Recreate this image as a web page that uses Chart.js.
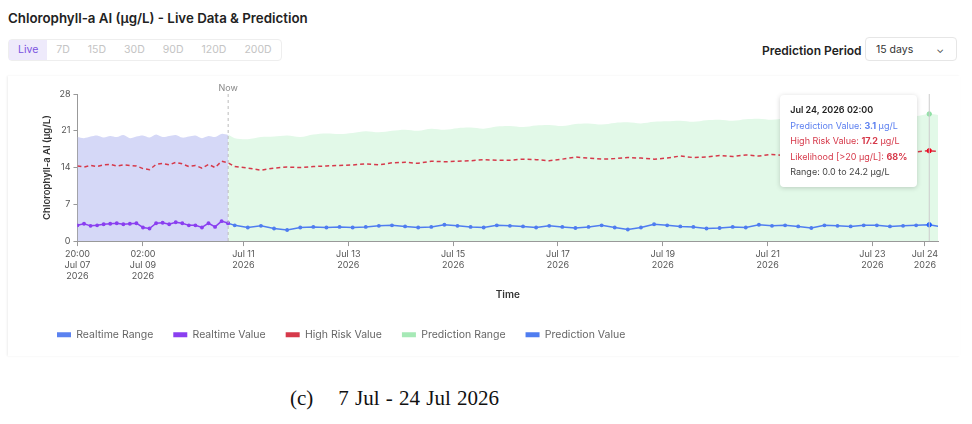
<!DOCTYPE html>
<html><head><meta charset="utf-8">
<script src="https://cdn.jsdelivr.net/npm/chart.js@4/dist/chart.umd.min.js"></script>
<style>
body{margin:0;width:972px;height:424px;background:#fff;font-family:Inter,"Noto Sans",sans-serif;position:relative;overflow:hidden}
h1{position:absolute;left:8px;top:10px;margin:0;font-size:13.3px;font-weight:600;color:#222}
.tabs{position:absolute;left:8px;top:39px;height:20px;border:1px solid #eee;border-radius:4px;display:flex;font-size:10.5px;color:#c4c4c4}
.tabs span{padding:0 9px;line-height:20px}
.tabs span.on{background:#eeeafb;color:#7b52e0}
.pp{position:absolute;left:762px;top:43px;font-size:12px;font-weight:600;color:#222}
.sel{position:absolute;left:865px;top:37px;width:92px;height:24px;border:1px solid #e6e6e6;border-radius:4px;font-size:10.5px;line-height:24px;color:#333;box-sizing:border-box;padding-left:10px}
.sel b{position:absolute;right:12px;top:-1px;font-weight:400;font-size:10px}
.card{position:absolute;left:8px;top:76px;width:952px;height:280px;box-shadow:-1px 0 2px #eee}
#tip{position:absolute;background:#fff;border-radius:4px;box-shadow:0 1px 5px rgba(0,0,0,.18);padding:7px 10px;font-size:9px;line-height:15.5px;white-space:nowrap;color:#444;display:none}
.cap{position:absolute;left:290px;top:386px;font-family:"Liberation Serif",serif;font-size:21px;color:#111;word-spacing:1px}
</style></head><body>
<h1>Chlorophyll-a AI (µg/L) - Live Data &amp; Prediction</h1>
<div class="tabs"><span class="on">Live</span><span>7D</span><span>15D</span><span>30D</span><span>90D</span><span>120D</span><span>200D</span></div>
<div class="pp">Prediction Period</div>
<div class="sel">15 days<b>&#8964;</b></div>
<div class="card"><canvas id="c" width="952" height="280"></canvas><div id="tip"></div></div>
<div class="cap">(c)&nbsp;&nbsp;&nbsp;&nbsp;7 Jul - 24 Jul 2026</div>
<script>
// hours since Jul 07 2026 20:00
const nowHour = 69;
const realtimeHours = []; for (let h = 0; h <= 69; h += 3) realtimeHours.push(h);
const predictionHours = [69]; for (let h = 72; h <= 396; h += 6) predictionHours.push(h);

const realtimeValue = [3.0,3.3,2.9,3.0,3.2,3.3,3.4,3.2,3.3,3.4,2.6,2.4,3.4,3.5,3.2,3.6,3.4,3.0,3.0,2.6,3.4,2.7,3.8,3.4];
const realtimeUpper = [19.8,19.6,19.9,20.1,19.7,20.0,19.8,20.2,19.6,19.9,20.1,19.7,20.3,19.8,20.0,20.2,19.7,19.9,20.1,19.6,20.0,19.8,20.4,20.2];
const realtimeRisk = [14.3,14.1,14.4,14.2,14.5,14.6,14.3,14.5,14.4,14.3,13.8,13.6,14.6,14.8,14.5,15.0,14.7,14.2,14.4,13.9,14.6,14.0,15.2,14.9];

const predictionValue = [3.4,3.0,2.6,2.9,2.4,2.1,2.6,2.7,2.6,2.7,2.6,2.7,2.9,3.0,2.8,2.6,2.7,3.1,2.9,2.7,2.6,3.0,2.9,2.8,2.6,2.9,2.7,2.5,2.7,3.0,2.6,2.2,2.6,3.2,3.0,2.8,2.7,2.4,2.5,2.7,2.6,3.1,2.9,3.0,2.8,2.5,3.0,2.9,2.8,3.0,3.0,2.8,2.9,3.0,3.1,2.7];
const predictionRisk = [14.9,14.2,13.9,13.5,13.9,14.1,14.0,14.2,14.3,14.4,14.5,14.7,14.5,14.9,15.0,14.8,15.2,15.1,15.2,15.3,15.5,15.4,15.4,15.6,15.5,15.3,15.6,16.0,15.8,15.6,15.7,15.9,15.8,15.6,15.8,16.2,15.9,16.0,16.3,16.1,16.4,16.2,16.5,16.3,16.6,16.8,16.5,16.7,16.9,16.8,17.0,16.9,17.1,17.0,17.2,17.0];
const predictionUpper = [20.3,19.6,19.4,19.8,19.9,20.1,19.8,20.3,20.5,20.4,20.6,20.9,20.7,21.0,21.2,21.0,21.4,21.2,21.5,21.6,21.4,21.8,21.9,21.7,22.0,22.1,21.9,22.3,22.4,22.2,22.5,22.6,22.4,22.7,22.8,22.9,22.7,23.0,23.1,22.9,23.2,23.3,23.1,23.4,23.5,23.3,23.6,23.5,23.7,23.8,23.6,23.9,24.0,23.8,24.2,23.9];
const likelihood = 68;
const hoverIndex = 54; // Jul 24, 02:00

const tickHours = [0, 30, 76, 124, 172, 220, 268, 316, 364, 388];
const tickLabels = [["20:00","Jul 07","2026"],["02:00","Jul 09","2026"],["Jul 11","2026"],["Jul 13","2026"],["Jul 15","2026"],["Jul 17","2026"],["Jul 19","2026"],["Jul 21","2026"],["Jul 23","2026"],["Jul 24","2026"]];
const legendColors = ["#5b82f0","#8a3ff0","#d6394a","#a6e9b6","#4f7df0"];

const pts = (xs, ys) => ys.map((y, i) => ({x: xs[i], y}));
const riskPts = pts(realtimeHours.slice(0, -1), realtimeRisk.slice(0, -1)).concat(pts(predictionHours, predictionRisk));

const overlay = {
  id: "overlay",
  afterInit(chart) {
    const lg = chart.legend, fit = lg.fit;
    lg.fit = function () { fit.call(this); this.height += 6; };
  },
  afterDatasetsDraw(chart) {
    const {ctx, chartArea: a, scales: {x}} = chart;
    ctx.save();
    const nx = x.getPixelForValue(nowHour);
    ctx.strokeStyle = "#bbb"; ctx.setLineDash([3,3]); ctx.lineWidth = 1;
    ctx.beginPath(); ctx.moveTo(nx, a.top); ctx.lineTo(nx, a.bottom); ctx.stroke();
    ctx.setLineDash([]);
    ctx.fillStyle = "#888"; ctx.font = "9px Inter"; ctx.textAlign = "center";
    ctx.fillText("Now", nx, a.top - 6);
    const hx = x.getPixelForValue(predictionHours[hoverIndex]);
    ctx.strokeStyle = "#ccc";
    ctx.beginPath(); ctx.moveTo(hx, a.top); ctx.lineTo(hx, a.bottom); ctx.stroke();
    ctx.restore();
  }
};

function externalTip(context) {
  const t = context.tooltip, el = document.getElementById("tip");
  if (t.opacity === 0) { el.style.display = "none"; return; }
  const i = hoverIndex;
  el.innerHTML = '<div style="font-weight:600;color:#222">Jul 24, 2026 02:00</div>' +
    '<div style="color:#5b7ff0">Prediction Value: <b>' + predictionValue[i].toFixed(1) + '</b> µg/L</div>' +
    '<div style="color:#d6394a">High Risk Value: <b>' + predictionRisk[i].toFixed(1) + '</b> µg/L</div>' +
    '<div style="color:#d6394a">Likelihood [&gt;20 µg/L]: <b>' + likelihood + '%</b></div>' +
    '<div>Range: 0.0 to ' + predictionUpper[i].toFixed(1) + ' µg/L</div>';
  el.style.display = "block";
  el.style.left = (t.caretX - el.offsetWidth - 12) + "px";
  el.style.top = (context.chart.chartArea.top + 1) + "px";
}

const chart = new Chart(document.getElementById("c"), {
  type: "line",
  data: {
    datasets: [
      {label: "Realtime Range", data: pts(realtimeHours, realtimeUpper), fill: "origin", backgroundColor: "#d5d8f7", borderWidth: 0, pointRadius: 0, tension: 0.3, order: 5},
      {label: "Realtime Value", data: pts(realtimeHours, realtimeValue), borderColor: "#8a3ff0", backgroundColor: "#8a3ff0", borderWidth: 1.5, pointRadius: 1.2, order: 1},
      {label: "High Risk Value", data: riskPts, borderColor: "#d6394a", backgroundColor: "#d6394a", borderDash: [4,3], borderWidth: 1.5, pointRadius: 0, pointHoverRadius: 2.2, pointHoverBorderWidth: 1, order: 2},
      {label: "Prediction Range", data: pts(predictionHours, predictionUpper), fill: "origin", backgroundColor: "#e2f9e8", borderWidth: 0, pointRadius: 0, pointHoverRadius: 2.2, pointHoverBorderWidth: 1, pointHoverBackgroundColor: "#8fe0a4", pointHoverBorderColor: "#8fe0a4", tension: 0.3, order: 6},
      {label: "Prediction Value", data: pts(predictionHours, predictionValue), borderColor: "#4f7df0", backgroundColor: "#4f7df0", borderWidth: 1.5, pointRadius: 1.2, pointHoverRadius: 2.2, pointHoverBorderWidth: 1, order: 1}
    ]
  },
  options: {
    responsive: false, animation: false,
    layout: {padding: {top: 18, right: 22, left: 29}},
    scales: {
      x: {
        type: "linear", min: 0, max: 394,
        afterBuildTicks: s => { s.ticks = tickHours.map(v => ({value: v})); },
        ticks: {autoSkip: false, maxRotation: 0, color: "#555", font: {size: 9, family: "Inter"}, callback: (v) => tickLabels[tickHours.indexOf(v)]},
        grid: {drawOnChartArea: false, tickLength: 5, color: "#999"},
        border: {color: "#999"},
        title: {display: true, text: "Time", color: "#333", font: {size: 10, weight: "600", family: "Inter"}, padding: {top: 4, bottom: 9}}
      },
      y: {
        min: 0, max: 28,
        ticks: {stepSize: 7, color: "#555", font: {size: 9, family: "Inter"}},
        grid: {drawOnChartArea: false, tickLength: 4, color: "#999"},
        border: {color: "#999"},
        title: {display: true, text: "Chlorophyll-a AI (µg/L)", color: "#333", font: {size: 9.5, weight: "600", family: "Inter"}}
      }
    },
    plugins: {
      legend: {
        position: "bottom", align: "start",
        labels: {
          boxWidth: 14, boxHeight: 5, padding: 20, color: "#666", font: {size: 10.5, family: "Inter"},
          generateLabels: ch => ch.data.datasets.map((d, i) => ({
            text: d.label, fillStyle: legendColors[i], strokeStyle: legendColors[i], lineWidth: 0,
            lineDash: i === 2 ? [3,3] : [], datasetIndex: i, fontColor: "#666"
          }))
        }
      },
      tooltip: {enabled: false, external: externalTip, mode: "index", intersect: false}
    }
  },
  plugins: [overlay]
});
const x0 = predictionHours[hoverIndex];
chart.setActiveElements([
  {datasetIndex: 3, index: hoverIndex},
  {datasetIndex: 2, index: 23 + hoverIndex},
  {datasetIndex: 4, index: hoverIndex}
]);
chart.tooltip.setActiveElements([{datasetIndex: 4, index: hoverIndex}], {x: chart.scales.x.getPixelForValue(x0), y: 100});
chart.update();
</script>
</body></html>
